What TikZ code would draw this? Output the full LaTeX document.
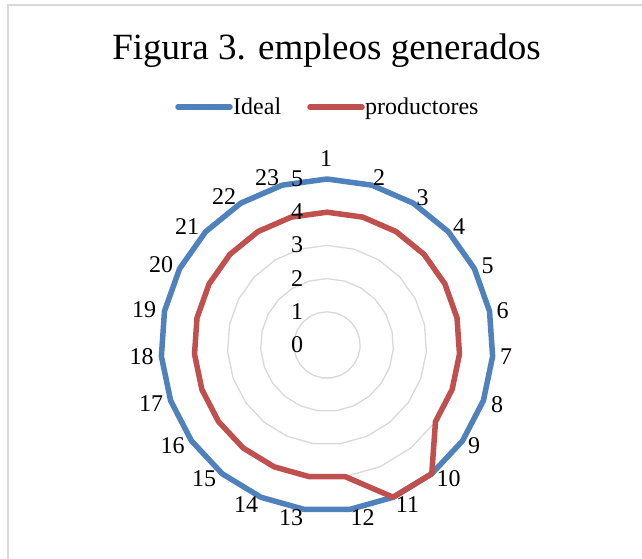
\documentclass[tikz,border=0pt]{standalone}
\usepackage{fontspec}
\setmainfont{Liberation Serif}
\usetikzlibrary{calc}
\definecolor{idealc}{HTML}{4F81BD}
\definecolor{prodc}{HTML}{C0504D}
\definecolor{gridc}{HTML}{D9D9D9}
\begin{document}
\begin{tikzpicture}[x=1pt,y=-1pt,
  frame/.style={draw=gridc,line width=1.2pt},
  gridline/.style={draw=gridc,line width=1.3pt},
  idealline/.style={draw=idealc,line width=5.5pt,line join=round,line cap=round},
  prodline/.style={draw=prodc,line width=5.5pt,line join=round,line cap=round},
  lbl/.style={inner sep=0pt,font=\fontsize{24}{26}\selectfont},
  titletext/.style={inner sep=0pt,font=\fontsize{37}{40}\selectfont},
  legtext/.style={inner sep=0pt,font=\fontsize{24}{26}\selectfont}]
\useasboundingbox (0,0) rectangle (642,559);
\draw[frame] (8,5) rectangle (700,620);
\coordinate (c) at (327,345);
% title
\node[titletext,anchor=base] (title) at (326.5,59.3) {Figura 3. empleos generados};
% legend
\coordinate (li1) at (178,107);
\coordinate (li2) at (230,107);
\coordinate (lp1) at (310,107);
\coordinate (lp2) at (362,107);
\draw[idealline] (li1) -- (li2);
\draw[prodline] (lp1) -- (lp2);
\node[legtext,anchor=base west] (legideal) at (233,115) {Ideal};
\node[legtext,anchor=base west] (legprod) at (365,115) {productores};
% grid rings
\foreach \r in {1,...,5} {
  \draw[gridline] ($(c)+(-90:\r*33.2)$)
    \foreach \k in {1,...,22} { -- ($(c)+(\k*360/23-90:\r*33.2)$) } -- cycle;
}
% ideal series (all 5)
\draw[idealline] ($(c)+(-90:166)$)
  \foreach \k in {1,...,22} { -- ($(c)+(\k*360/23-90:166)$) } -- cycle;
% productores series
\draw[prodline] ($(c)+(-90:4*33.2)$)
  \foreach \v [count=\k] in {4,4,4,4,4,4,4,4,5,5,4,4,4,4,4,4,4,4,4,4,4,4}
  { -- ($(c)+(\k*360/23-90:\v*33.2)$) } -- cycle;
% value labels
\foreach \v in {0,...,5} {
  \node[lbl] (val\v) at (297,{345-33.2*\v-0.5}) {\v};
}
% category labels
\foreach \n/\x/\y in {1/326/159,2/379/177.5,3/422.5/197.5,4/459/227,5/487.5/265.5,
  6/502.5/310.5,7/506/356.5,8/497/405,9/474/446,10/448.5/479,11/407.5/505,
  12/362.5/518,13/291/518,14/246/505,15/204/479,16/172.5/446,17/151/404,
  18/141.5/357,19/144/310,20/161/265,21/187/226.5,22/224/196.5,23/267/177.5} {
  \node[lbl] (cat\n) at (\x,\y) {\n};
}
\end{tikzpicture}
\end{document}
